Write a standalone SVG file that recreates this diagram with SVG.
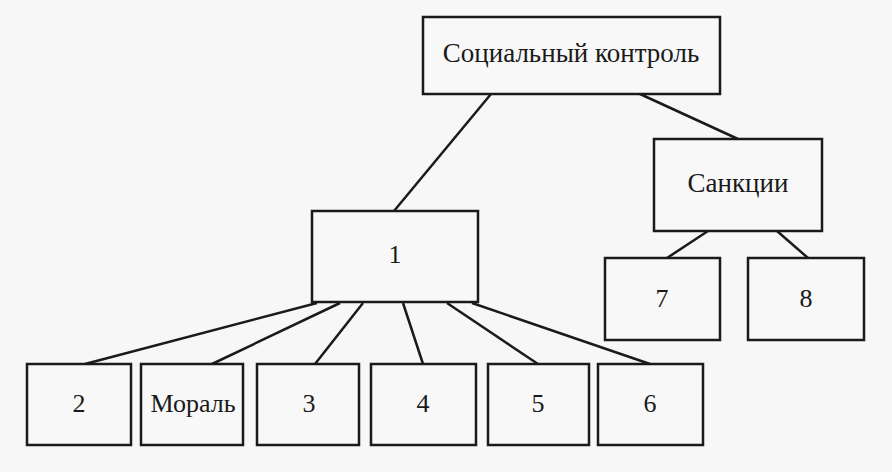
<svg xmlns="http://www.w3.org/2000/svg" width="892" height="472" viewBox="0 0 892 472">
<style>
.box{fill:#f8f8f8;stroke:#1a1a1a;stroke-width:2.5}
.t{font-family:"Liberation Serif","Times New Roman",serif;font-size:26px;fill:#1a1a1a;text-anchor:middle}
#connectors line{stroke:#1a1a1a;stroke-width:2.5}
</style>
<rect width="892" height="472" fill="#f7f7f7"/>
<g id="connectors">
<line x1="491" y1="94" x2="394" y2="211"/>
<line x1="640" y1="94" x2="738" y2="139"/>
<line x1="708" y1="231" x2="667" y2="258"/>
<line x1="777" y1="231" x2="808" y2="258"/>
<line x1="317" y1="303" x2="85" y2="364"/>
<line x1="340" y1="303" x2="212" y2="364"/>
<line x1="363" y1="303" x2="315" y2="364"/>
<line x1="403" y1="303" x2="423" y2="364"/>
<line x1="447" y1="303" x2="538" y2="364"/>
<line x1="472" y1="303" x2="650" y2="364"/>
</g>
<g id="social"><rect class="box" x="423" y="17" width="297" height="77"/><text class="t" x="571" y="62" style="font-size:27px">Социальный контроль</text></g>
<g id="sanctions"><rect class="box" x="654" y="139" width="168" height="92"/><text class="t" x="738" y="192" style="font-size:27px">Санкции</text></g>
<g id="n1"><rect class="box" x="312" y="211" width="166" height="91"/><text class="t" x="395" y="263">1</text></g>
<g id="n7"><rect class="box" x="605" y="258" width="115" height="82"/><text class="t" x="662" y="307">7</text></g>
<g id="n8"><rect class="box" x="748" y="258" width="116" height="82"/><text class="t" x="806" y="307">8</text></g>
<g id="n2"><rect class="box" x="27" y="364" width="104" height="81"/><text class="t" x="79" y="412">2</text></g>
<g id="moral"><rect class="box" x="141" y="364" width="102" height="81"/><text class="t" x="193" y="412">Мораль</text></g>
<g id="n3"><rect class="box" x="257" y="364" width="102" height="81"/><text class="t" x="309" y="412">3</text></g>
<g id="n4"><rect class="box" x="371" y="364" width="105" height="81"/><text class="t" x="423" y="412">4</text></g>
<g id="n5"><rect class="box" x="488" y="364" width="101" height="81"/><text class="t" x="538" y="412">5</text></g>
<g id="n6"><rect class="box" x="598" y="364" width="105" height="81"/><text class="t" x="650" y="412">6</text></g>
</svg>
